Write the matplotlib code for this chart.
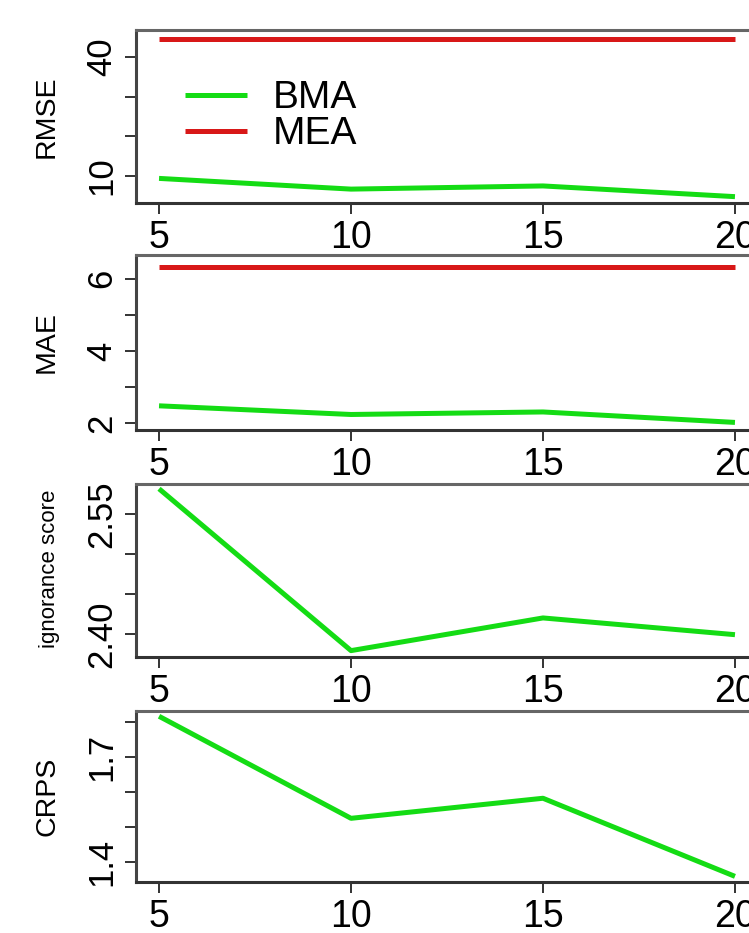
import numpy as np
import matplotlib
matplotlib.use("Agg")
import matplotlib.pyplot as plt

plt.rcParams['font.family'] = ['Liberation Sans', 'DejaVu Sans']

# data
lead = [5, 10, 15, 20]
rmse_bma = [9.4, 6.7, 7.5, 4.8]
rmse_mea = [44.6, 44.6, 44.6, 44.6]
mae_bma = [2.48, 2.24, 2.31, 2.02]
mae_mea = [6.33, 6.33, 6.33, 6.33]
ign_bma = [2.582, 2.379, 2.420, 2.399]
crps_bma = [1.815, 1.525, 1.582, 1.360]

xticks = [5, 10, 15, 20]
green = '#14dc14'
red = '#d81818'

fig = plt.figure(figsize=(7.49, 9.33), dpi=100)
W, H = 749.0, 933.0

def panel(top, bot):
    # axes box in pixel units of the reference, right edge runs off the figure
    left, right = 136, 758
    return fig.add_axes([left / W, 1 - bot / H, (right - left) / W, (bot - top) / H])

def style(ax, ylim, yticks, ylabels):
    ax.set_xlim(4.4, 20.6)
    ax.set_ylim(*ylim)
    ax.set_xticks(xticks)
    ax.set_xticklabels([str(v) for v in xticks], fontsize=27)
    ax.set_yticks(yticks)
    ax.set_yticklabels(ylabels, fontsize=25, rotation=90, va='center')
    ax.tick_params(axis='both', direction='out', length=8, width=1.4, color='#333333')
    ax.tick_params(axis='x', pad=4)
    ax.tick_params(axis='y', pad=5)
    for s in ax.spines.values():
        s.set_linewidth(2.2)
        s.set_color('#666666')
    ax.spines['bottom'].set_color('#333333')
    ax.spines['left'].set_color('#444444')

# RMSE
ax1 = panel(30, 203)
ax1.plot(lead, rmse_bma, color=green, lw=3.6, label='BMA', solid_capstyle='butt')
ax1.plot(lead, rmse_mea, color=red, lw=3.6, label='MEA', solid_capstyle='butt')
style(ax1, (3.2, 46.8), [10, 20, 30, 40], ['10', '', '', '40'])
leg = ax1.legend(loc='upper left', bbox_to_anchor=(0.079, 0.71), frameon=False,
                 fontsize=28, handlelength=1.6, handletextpad=0.65,
                 labelspacing=0.0, borderpad=0, borderaxespad=0)

# MAE
ax2 = panel(255, 430)
ax2.plot(lead, mae_bma, color=green, lw=3.6, solid_capstyle='butt')
ax2.plot(lead, mae_mea, color=red, lw=3.6, solid_capstyle='butt')
style(ax2, (1.81, 6.66), [2, 3, 4, 5, 6], ['2', '', '4', '', '6'])

# ignorance score
ax3 = panel(484, 657)
ax3.plot(lead, ign_bma, color=green, lw=3.6, solid_capstyle='butt')
style(ax3, (2.371, 2.588), [2.40, 2.45, 2.50, 2.55], ['2.40', '', '', '2.55'])

# CRPS
ax4 = panel(711, 882)
ax4.plot(lead, crps_bma, color=green, lw=3.6, solid_capstyle='butt')
style(ax4, (1.344, 1.83), [1.4, 1.5, 1.6, 1.7, 1.8], ['1.4', '', '', '1.7', ''])

# y axis titles
fig.text(47 / W, 1 - 117 / H, 'RMSE', rotation=90, ha='center', va='center', fontsize=20.5)
fig.text(47 / W, 1 - 342 / H, 'MAE', rotation=90, ha='center', va='center', fontsize=20.5)
fig.text(50 / W, 1 - 569 / H, 'ignorance score', rotation=90, ha='center', va='center', fontsize=16)
fig.text(47 / W, 1 - 796 / H, 'CRPS', rotation=90, ha='center', va='center', fontsize=20.5)

fig.savefig('out.png', dpi=100)
